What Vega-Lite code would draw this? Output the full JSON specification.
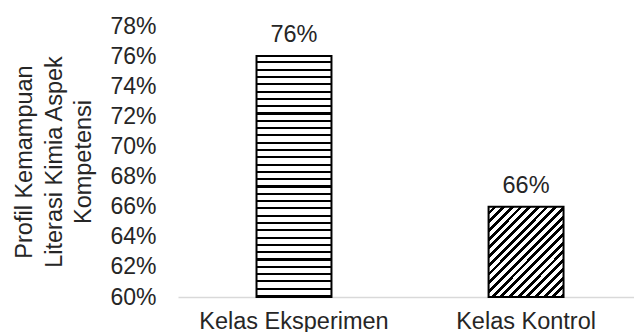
{
  "$schema": "https://vega.github.io/schema/vega-lite/v6.json",
  "width": 456,
  "height": 271,
  "autosize": "none",
  "padding": {"left": 178, "top": 26, "right": 0, "bottom": 35},
  "background": "white",
  "config": {
    "view": {"stroke": null},
    "font": "Liberation Sans",
    "axis": {
      "labelFont": "Liberation Sans",
      "titleFont": "Liberation Sans",
      "labelColor": "#262626",
      "titleColor": "#262626",
      "grid": false,
      "ticks": false,
      "tickSize": 0
    }
  },
  "data": {
    "values": [
      {"kelas": "Kelas Eksperimen", "persen": 0.76},
      {"kelas": "Kelas Kontrol", "persen": 0.66}
    ]
  },
  "encoding": {
    "x": {
      "field": "kelas",
      "type": "nominal",
      "sort": null,
      "scale": {"paddingInner": 0.677, "paddingOuter": 0.321, "align": 0.527},
      "axis": {
        "title": null,
        "labelAngle": 0,
        "labelFontSize": 23.5,
        "labelLimit": 0,
        "labelPadding": 12,
        "domainColor": "#d9d9d9",
        "domainWidth": 1.5
      }
    },
    "y": {
      "field": "persen",
      "type": "quantitative",
      "scale": {"domain": [0.6, 0.78], "zero": false, "nice": false},
      "axis": {
        "values": [0.6, 0.62, 0.64, 0.66, 0.68, 0.7, 0.72, 0.74, 0.76, 0.78],
        "format": ".0%",
        "domain": false,
        "labelFontSize": 23,
        "labelPadding": 22,
        "title": ["Profil Kemampuan", "Literasi Kimia Aspek", "Kompetensi"],
        "titleFontSize": 23.5,
        "titleFontWeight": "normal",
        "titleLineHeight": 29.5,
        "titlePadding": 14
      }
    }
  },
  "layer": [
    {
      "transform": [{"filter": "datum.kelas === 'Kelas Eksperimen'"}],
      "mark": {
        "type": "bar",
        "stroke": "black",
        "strokeWidth": 2,
        "fill": {
          "gradient": "linear",
          "x1": 0, "y1": 0, "x2": 0, "y2": 1,
          "stops": [
            {"offset": 0, "color": "white"}, {"offset": 0.02182, "color": "white"}, {"offset": 0.02182, "color": "black"}, {"offset": 0.0303, "color": "black"},
            {"offset": 0.0303, "color": "white"}, {"offset": 0.05212, "color": "white"}, {"offset": 0.05212, "color": "black"}, {"offset": 0.06061, "color": "black"},
            {"offset": 0.06061, "color": "white"}, {"offset": 0.08242, "color": "white"}, {"offset": 0.08242, "color": "black"}, {"offset": 0.09091, "color": "black"},
            {"offset": 0.09091, "color": "white"}, {"offset": 0.11273, "color": "white"}, {"offset": 0.11273, "color": "black"}, {"offset": 0.12121, "color": "black"},
            {"offset": 0.12121, "color": "white"}, {"offset": 0.14303, "color": "white"}, {"offset": 0.14303, "color": "black"}, {"offset": 0.15152, "color": "black"},
            {"offset": 0.15152, "color": "white"}, {"offset": 0.17333, "color": "white"}, {"offset": 0.17333, "color": "black"}, {"offset": 0.18182, "color": "black"},
            {"offset": 0.18182, "color": "white"}, {"offset": 0.20364, "color": "white"}, {"offset": 0.20364, "color": "black"}, {"offset": 0.21212, "color": "black"},
            {"offset": 0.21212, "color": "white"}, {"offset": 0.23394, "color": "white"}, {"offset": 0.23394, "color": "black"}, {"offset": 0.24242, "color": "black"},
            {"offset": 0.24242, "color": "white"}, {"offset": 0.26424, "color": "white"}, {"offset": 0.26424, "color": "black"}, {"offset": 0.27273, "color": "black"},
            {"offset": 0.27273, "color": "white"}, {"offset": 0.29455, "color": "white"}, {"offset": 0.29455, "color": "black"}, {"offset": 0.30303, "color": "black"},
            {"offset": 0.30303, "color": "white"}, {"offset": 0.32485, "color": "white"}, {"offset": 0.32485, "color": "black"}, {"offset": 0.33333, "color": "black"},
            {"offset": 0.33333, "color": "white"}, {"offset": 0.35515, "color": "white"}, {"offset": 0.35515, "color": "black"}, {"offset": 0.36364, "color": "black"},
            {"offset": 0.36364, "color": "white"}, {"offset": 0.38545, "color": "white"}, {"offset": 0.38545, "color": "black"}, {"offset": 0.39394, "color": "black"},
            {"offset": 0.39394, "color": "white"}, {"offset": 0.41576, "color": "white"}, {"offset": 0.41576, "color": "black"}, {"offset": 0.42424, "color": "black"},
            {"offset": 0.42424, "color": "white"}, {"offset": 0.44606, "color": "white"}, {"offset": 0.44606, "color": "black"}, {"offset": 0.45455, "color": "black"},
            {"offset": 0.45455, "color": "white"}, {"offset": 0.47636, "color": "white"}, {"offset": 0.47636, "color": "black"}, {"offset": 0.48485, "color": "black"},
            {"offset": 0.48485, "color": "white"}, {"offset": 0.50667, "color": "white"}, {"offset": 0.50667, "color": "black"}, {"offset": 0.51515, "color": "black"},
            {"offset": 0.51515, "color": "white"}, {"offset": 0.53697, "color": "white"}, {"offset": 0.53697, "color": "black"}, {"offset": 0.54545, "color": "black"},
            {"offset": 0.54545, "color": "white"}, {"offset": 0.56727, "color": "white"}, {"offset": 0.56727, "color": "black"}, {"offset": 0.57576, "color": "black"},
            {"offset": 0.57576, "color": "white"}, {"offset": 0.59758, "color": "white"}, {"offset": 0.59758, "color": "black"}, {"offset": 0.60606, "color": "black"},
            {"offset": 0.60606, "color": "white"}, {"offset": 0.62788, "color": "white"}, {"offset": 0.62788, "color": "black"}, {"offset": 0.63636, "color": "black"},
            {"offset": 0.63636, "color": "white"}, {"offset": 0.65818, "color": "white"}, {"offset": 0.65818, "color": "black"}, {"offset": 0.66667, "color": "black"},
            {"offset": 0.66667, "color": "white"}, {"offset": 0.68848, "color": "white"}, {"offset": 0.68848, "color": "black"}, {"offset": 0.69697, "color": "black"},
            {"offset": 0.69697, "color": "white"}, {"offset": 0.71879, "color": "white"}, {"offset": 0.71879, "color": "black"}, {"offset": 0.72727, "color": "black"},
            {"offset": 0.72727, "color": "white"}, {"offset": 0.74909, "color": "white"}, {"offset": 0.74909, "color": "black"}, {"offset": 0.75758, "color": "black"},
            {"offset": 0.75758, "color": "white"}, {"offset": 0.77939, "color": "white"}, {"offset": 0.77939, "color": "black"}, {"offset": 0.78788, "color": "black"},
            {"offset": 0.78788, "color": "white"}, {"offset": 0.8097, "color": "white"}, {"offset": 0.8097, "color": "black"}, {"offset": 0.81818, "color": "black"},
            {"offset": 0.81818, "color": "white"}, {"offset": 0.84, "color": "white"}, {"offset": 0.84, "color": "black"}, {"offset": 0.84848, "color": "black"},
            {"offset": 0.84848, "color": "white"}, {"offset": 0.8703, "color": "white"}, {"offset": 0.8703, "color": "black"}, {"offset": 0.87879, "color": "black"},
            {"offset": 0.87879, "color": "white"}, {"offset": 0.90061, "color": "white"}, {"offset": 0.90061, "color": "black"}, {"offset": 0.90909, "color": "black"},
            {"offset": 0.90909, "color": "white"}, {"offset": 0.93091, "color": "white"}, {"offset": 0.93091, "color": "black"}, {"offset": 0.93939, "color": "black"},
            {"offset": 0.93939, "color": "white"}, {"offset": 0.96121, "color": "white"}, {"offset": 0.96121, "color": "black"}, {"offset": 0.9697, "color": "black"},
            {"offset": 0.9697, "color": "white"}, {"offset": 0.99152, "color": "white"}, {"offset": 0.99152, "color": "black"}, {"offset": 1, "color": "black"}
          ]
        }
      },
      "encoding": {"y2": {"datum": 0.6}}
    },
    {
      "transform": [{"filter": "datum.kelas === 'Kelas Kontrol'"}],
      "mark": {
        "type": "bar",
        "stroke": "black",
        "strokeWidth": 2,
        "fill": {
          "gradient": "linear",
          "x1": 0, "y1": 0, "x2": 0.902, "y2": 1.081,
          "stops": [
            {"offset": 0, "color": "white"}, {"offset": 0.02895, "color": "white"}, {"offset": 0.02895, "color": "black"}, {"offset": 0.05263, "color": "black"},
            {"offset": 0.05263, "color": "white"}, {"offset": 0.08158, "color": "white"}, {"offset": 0.08158, "color": "black"}, {"offset": 0.10526, "color": "black"},
            {"offset": 0.10526, "color": "white"}, {"offset": 0.13421, "color": "white"}, {"offset": 0.13421, "color": "black"}, {"offset": 0.15789, "color": "black"},
            {"offset": 0.15789, "color": "white"}, {"offset": 0.18684, "color": "white"}, {"offset": 0.18684, "color": "black"}, {"offset": 0.21053, "color": "black"},
            {"offset": 0.21053, "color": "white"}, {"offset": 0.23947, "color": "white"}, {"offset": 0.23947, "color": "black"}, {"offset": 0.26316, "color": "black"},
            {"offset": 0.26316, "color": "white"}, {"offset": 0.29211, "color": "white"}, {"offset": 0.29211, "color": "black"}, {"offset": 0.31579, "color": "black"},
            {"offset": 0.31579, "color": "white"}, {"offset": 0.34474, "color": "white"}, {"offset": 0.34474, "color": "black"}, {"offset": 0.36842, "color": "black"},
            {"offset": 0.36842, "color": "white"}, {"offset": 0.39737, "color": "white"}, {"offset": 0.39737, "color": "black"}, {"offset": 0.42105, "color": "black"},
            {"offset": 0.42105, "color": "white"}, {"offset": 0.45, "color": "white"}, {"offset": 0.45, "color": "black"}, {"offset": 0.47368, "color": "black"},
            {"offset": 0.47368, "color": "white"}, {"offset": 0.50263, "color": "white"}, {"offset": 0.50263, "color": "black"}, {"offset": 0.52632, "color": "black"},
            {"offset": 0.52632, "color": "white"}, {"offset": 0.55526, "color": "white"}, {"offset": 0.55526, "color": "black"}, {"offset": 0.57895, "color": "black"},
            {"offset": 0.57895, "color": "white"}, {"offset": 0.60789, "color": "white"}, {"offset": 0.60789, "color": "black"}, {"offset": 0.63158, "color": "black"},
            {"offset": 0.63158, "color": "white"}, {"offset": 0.66053, "color": "white"}, {"offset": 0.66053, "color": "black"}, {"offset": 0.68421, "color": "black"},
            {"offset": 0.68421, "color": "white"}, {"offset": 0.71316, "color": "white"}, {"offset": 0.71316, "color": "black"}, {"offset": 0.73684, "color": "black"},
            {"offset": 0.73684, "color": "white"}, {"offset": 0.76579, "color": "white"}, {"offset": 0.76579, "color": "black"}, {"offset": 0.78947, "color": "black"},
            {"offset": 0.78947, "color": "white"}, {"offset": 0.81842, "color": "white"}, {"offset": 0.81842, "color": "black"}, {"offset": 0.84211, "color": "black"},
            {"offset": 0.84211, "color": "white"}, {"offset": 0.87105, "color": "white"}, {"offset": 0.87105, "color": "black"}, {"offset": 0.89474, "color": "black"},
            {"offset": 0.89474, "color": "white"}, {"offset": 0.92368, "color": "white"}, {"offset": 0.92368, "color": "black"}, {"offset": 0.94737, "color": "black"},
            {"offset": 0.94737, "color": "white"}, {"offset": 0.97632, "color": "white"}, {"offset": 0.97632, "color": "black"}, {"offset": 1, "color": "black"}
          ]
        }
      },
      "encoding": {"y2": {"datum": 0.6}}
    },
    {
      "mark": {
        "type": "text",
        "baseline": "alphabetic",
        "align": "center",
        "dy": -14,
        "fontSize": 23.5,
        "font": "Liberation Sans",
        "color": "#262626"
      },
      "encoding": {"text": {"field": "persen", "type": "quantitative", "format": ".0%"}}
    }
  ]
}
